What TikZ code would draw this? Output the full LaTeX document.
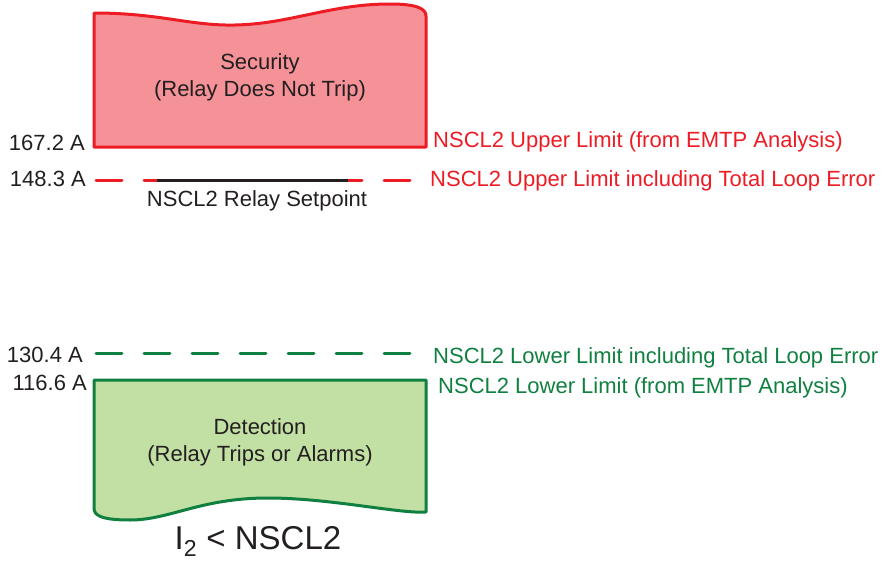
\documentclass[tikz,border=0pt]{standalone}
\usepackage{fontspec}
\setmainfont{Liberation Sans}
\usetikzlibrary{positioning}

\definecolor{upred}{HTML}{ED1C24}
\definecolor{secfill}{HTML}{F59298}
\definecolor{lowgreen}{HTML}{108040}
\definecolor{detfill}{HTML}{C3E0A4}
\definecolor{txt}{HTML}{231F20}

\begin{document}
\begin{tikzpicture}[x=1pt,y=-1pt]
        \tikzstyle{every node}=[inner sep=0pt,font=\fontsize{22}{27}\selectfont,text=txt]
        \tikzstyle{amps}=[anchor=base east]
        \tikzstyle{limit}=[anchor=base west]
        \tikzstyle{zone}=[line width=3pt,line join=round]
        \tikzstyle{band}=[line width=3pt,line cap=round,dash pattern=on 26pt off 22pt]
        \useasboundingbox (0,0) rectangle (884,562);

        % security region with a wavy top
        \draw[zone,draw=upred,fill=secfill] (94,147) -- (94,13)
          .. controls (160,13) and (190,26) .. (235,25)
          .. controls (290,24) and (330,4) .. (390,4)
          .. controls (415,4) and (426,8) .. (426,16) -- (426,147) -- cycle;
        \node[align=center,anchor=base] (sec) at (260,96) {Security\\(Relay Does Not Trip)};

        % detection region with a wavy bottom
        \draw[zone,draw=lowgreen,fill=detfill] (94,380) -- (426,380) -- (426,512)
          .. controls (400,514) and (330,498) .. (268,498)
          .. controls (200,498) and (170,520) .. (130,520)
          .. controls (100,520) and (94,515) .. (94,508) -- cycle;
        \node[align=center,anchor=base] (det) at (260,461) {Detection\\(Relay Trips or Alarms)};

        % setpoint band
        \coordinate (upA) at (96,180);
        \coordinate (upB) at (410,180);
        \coordinate (setA) at (157,180);
        \coordinate (setB) at (348,180);
        \draw[band,draw=upred] (upA) -- (upB);
        \draw[line width=3pt,draw=txt] (setA) -- (setB);
        \node[anchor=base] (setlbl) at (257,206) {NSCL2 Relay Setpoint};

        \coordinate (lowA) at (96,353);
        \coordinate (lowB) at (410,353);
        \draw[band,draw=lowgreen] (lowA) -- (lowB);

        % current values
        \node[amps] (a1) at (85,150) {167.2 A};
        \node[amps] (a2) at (86,186) {148.3 A};
        \node[amps] (a3) at (83,362) {130.4 A};
        \node[amps] (a4) at (87,390) {116.6 A};

        % limit descriptions
        \node[limit,text=upred] (l1) at (433,147) {NSCL2 Upper Limit (from EMTP Analysis)};
        \node[limit,text=upred] (l2) at (430,186) {NSCL2 Upper Limit including Total Loop Error};
        \node[limit,text=lowgreen] (l3) at (433,363) {NSCL2 Lower Limit including Total Loop Error};
        \node[limit,text=lowgreen] (l4) at (438,393) {NSCL2 Lower Limit (from EMTP Analysis)};

        \node[anchor=base,font=\fontsize{33}{40}\selectfont] (cond) at (258,549) {I\textsubscript{2} < NSCL2};
\end{tikzpicture}
\end{document}
